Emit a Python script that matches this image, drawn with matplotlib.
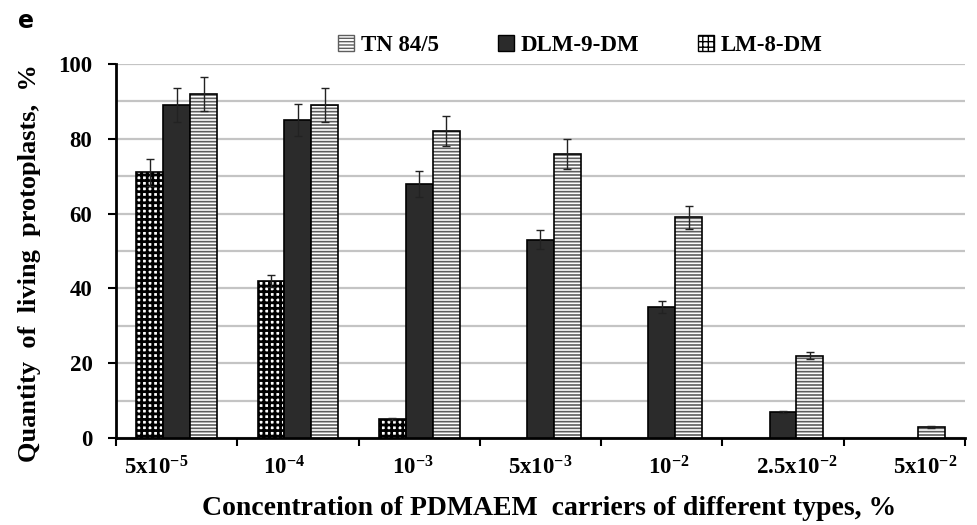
import matplotlib
matplotlib.use("Agg")
import matplotlib.pyplot as plt
import numpy as np
from matplotlib.patches import Patch

plt.rcParams['font.family'] = ['Liberation Serif', 'DejaVu Serif']
plt.rcParams['font.weight'] = 'bold'
plt.rcParams['mathtext.fontset'] = 'custom'
plt.rcParams['mathtext.rm'] = 'Liberation Serif:bold'
plt.rcParams['mathtext.it'] = 'Liberation Serif:bold'
plt.rcParams['mathtext.bf'] = 'Liberation Serif:bold'

categories = ['5x10$^{-5}$', '10$^{-4}$', '10$^{-3}$', '5x10$^{-3}$', '10$^{-2}$',
              '2.5x10$^{-2}$', '5x10$^{-2}$']
lm8 = [71, 42, 5, 0, 0, 0, 0]
lm8_err = [3.5, 1.5, 0.3, 0, 0, 0, 0]
dlm9 = [89, 85, 68, 53, 35, 7, 0]
dlm9_err = [4.5, 4.2, 3.5, 2.5, 1.5, 0.3, 0]
tn = [92, 89, 82, 76, 59, 22, 3]
tn_err = [4.5, 4.5, 4.0, 4.0, 3.0, 1.0, 0.3]

CHECK = '+++'
STRIPE = '-----'
CHECK_LW = 2.0
STRIPE_LW = 1.2

fig = plt.figure(figsize=(9.78, 5.25), dpi=100)
ax = fig.add_axes([0.1186, 0.1657, 0.868, 0.7124])

n = len(categories)
x = np.arange(n) + 0.5
w = 0.222

def set_hlw(patches, lw):
    for p in patches:
        if hasattr(p, 'set_hatch_linewidth'):
            p.set_hatch_linewidth(lw)

def draw(vals, errs, offset, face, hatch, hcol, hlw):
    xs = x + offset
    mask = [v > 0 for v in vals]
    xv = [a for a, m in zip(xs, mask) if m]
    vv = [a for a, m in zip(vals, mask) if m]
    ev = [a for a, m in zip(errs, mask) if m]
    if hatch:
        with plt.rc_context({'hatch.linewidth': hlw}):
            b = ax.bar(xv, vv, w, color=face, edgecolor=hcol, hatch=hatch, linewidth=0, zorder=3)
            set_hlw(b, hlw)
        ax.bar(xv, vv, w, color='none', edgecolor='black', linewidth=1.2, zorder=4)
    else:
        ax.bar(xv, vv, w, color=face, edgecolor='black', linewidth=1.2, zorder=3)
    ax.errorbar(xv, vv, yerr=ev, fmt='none', ecolor='#222222', elinewidth=1.0,
                capsize=3, capthick=1.0, zorder=5)

draw(lm8, lm8_err, -w, 'white', CHECK, 'black', CHECK_LW)
draw(dlm9, dlm9_err, 0, '#2b2b2b', None, None, None)
draw(tn, tn_err, w, 'white', STRIPE, '#5e5e5e', STRIPE_LW)

ax.set_xlim(0, n)
ax.set_ylim(0, 100)
ax.set_yticks(np.arange(0, 101, 20))
ax.set_yticks(np.arange(0, 101, 10), minor=True)
ax.yaxis.grid(True, which='both', color='#c4c4c4', linewidth=1.6, zorder=0)
ax.set_axisbelow(True)
ax.tick_params(axis='y', which='major', direction='out', length=6, width=1.5,
               labelsize=16.5, pad=11)
ax.tick_params(axis='y', which='minor', length=0)

# category labels are spread slightly wider than the groups, as in the reference
label_pos = np.linspace(0.33, n - 0.33, n)
ax.set_xticks(np.arange(0, n + 1))
ax.set_xticklabels([])
ax.set_xticks(label_pos, minor=True)
ax.set_xticklabels(categories, minor=True)
ax.tick_params(axis='x', which='major', direction='out', length=6, width=1.5)
ax.tick_params(axis='x', which='minor', length=0, labelsize=16.5, pad=13)

for s in ['top', 'right']:
    ax.spines[s].set_visible(False)
for s in ['left', 'bottom']:
    ax.spines[s].set_linewidth(2)
    ax.spines[s].set_color('black')

ax.set_ylabel('Quantity  of  living  protoplasts,  %', fontsize=19, fontweight='bold')
ax.yaxis.set_label_coords(-0.088, 0.468)
ax.set_xlabel('Concentration of PDMAEM  carriers of different types, %', fontsize=20,
              fontweight='bold')
ax.xaxis.set_label_coords(0.51, -0.155)

with plt.rc_context({'hatch.linewidth': STRIPE_LW}):
    h1 = Patch(facecolor='white', edgecolor='#5e5e5e', hatch=STRIPE, label='TN 84/5')
h2 = Patch(facecolor='#2b2b2b', edgecolor='black', label='DLM-9-DM')
with plt.rc_context({'hatch.linewidth': CHECK_LW}):
    h3 = Patch(facecolor='white', edgecolor='black', hatch=CHECK, label='LM-8-DM')
ax.legend(handles=[h1, h2, h3], loc='lower center', bbox_to_anchor=(0.547, 0.965), ncol=3,
          frameon=False, handlelength=0.7, handleheight=0.7,
          handletextpad=0.3, columnspacing=2.55, prop={'weight': 'bold', 'size': 16.5})

fig.text(0.018, 0.947, 'e', fontsize=17, fontweight='bold', family='DejaVu Sans')

fig.savefig('out.png', dpi=100)
